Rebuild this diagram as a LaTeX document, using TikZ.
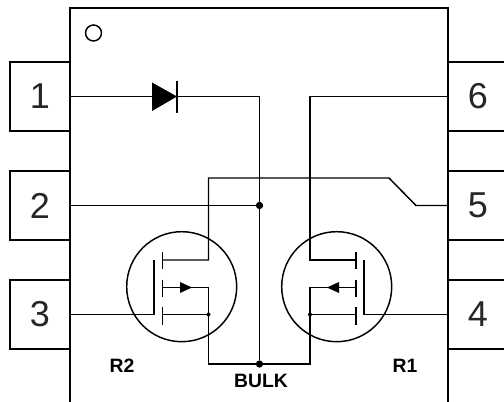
\documentclass[tikz,border=0pt]{standalone}
\usepackage{fontspec}
\setmainfont{Liberation Sans}
\usepackage{tikz}
\tikzstyle{pin} = [rectangle, minimum width=60pt*0.75, minimum height=69pt*0.75, inner sep=0pt, draw=black, line width=1.4pt, font=\fontsize{27}{27}\selectfont, text=black!85]
\tikzstyle{wire} = [line width=1.1pt, line join=miter]
\tikzstyle{part} = [circle, draw=black, line width=1.1pt, minimum size=110pt*0.75, inner sep=0pt]
\tikzstyle{label} = [font=\bfseries\fontsize{14.5}{14.5}\selectfont, inner sep=0pt]
\tikzstyle{dot} = [circle, fill=black, inner sep=0pt, minimum size=5.5pt]
\tikzstyle{smalldot} = [circle, fill=black, inner sep=0pt, minimum size=3pt]

\begin{document}
\begin{tikzpicture}[x=0.75pt, y=-0.75pt]
        \useasboundingbox (0,0) rectangle (504,402);
        \clip (0,0) rectangle (504,402);

        % package outline
        \draw [line width=1.4pt] (70,402) -- (70,8) -- (448,8) -- (448,402);
        \node (mark) [circle, draw=black, line width=1.1pt, minimum size=16pt*0.75, inner sep=0pt] at (93.5,33) {};

        \node (pin1) [pin] at (40,96.5) {1};
        \node (pin2) [pin] at (40,205.5) {2};
        \node (pin3) [pin] at (40,314.5) {3};
        \node (pin6) [pin, minimum width=72pt*0.75] at (484,96.5) {};
        \node (pin5) [pin, minimum width=72pt*0.75] at (484,205.5) {};
        \node (pin4) [pin, minimum width=72pt*0.75] at (484,314.5) {};
        \node (num6) at (478,96.5) [font=\fontsize{27}{27}\selectfont, text=black!85] {6};
        \node (num5) at (478,205.5) [font=\fontsize{27}{27}\selectfont, text=black!85] {5};
        \node (num4) at (478,314.5) [font=\fontsize{27}{27}\selectfont, text=black!85] {4};

        \node (R2) [part] at (181.7,286.7) {};
        \node (R1) [part] at (336.7,286.7) {};

        \node (textR2) [label] at (122,366) {R2};
        \node (textR1) [label] at (405,366) {R1};
        \node (bulk) [label] at (261,381) {BULK};

        \coordinate (top) at (259.5,96.5);
        \node (mid) [dot] at (259.5,205.5) {};
        \node (low) [dot] at (259.5,364) {};
        \node (dotR2) [smalldot] at (208.5,314.5) {};
        \node (dotR1) [smalldot] at (310,314.5) {};

        % diode
        \coordinate (anode) at (152,96.5);
        \coordinate (cathode) at (177,96.5);
        \fill (152,82.5) -- (cathode) -- (152,111) -- cycle;
        \draw [line width=0.9pt] (177,81) -- (177,113);
        \draw [wire] (pin1.east) -- (anode);
        \draw [wire] (cathode) -- (top) -- (mid);
        \draw [wire] (mid) -- (low);
        \draw [wire] (pin2.east) -- (mid);

        % R2
        \draw [wire] (pin3.east) -- (154,314.5) -- (154,260);
        \draw [wire] (162.5,252) -- (162.5,269);
        \draw [wire] (162.5,280) -- (162.5,297);
        \draw [wire] (162.5,307) -- (162.5,325);
        \draw [wire] (pin5.west) -- (416,205.5) -- (389,178) -- (208.5,178) -- (208.5,260) -- (162.5,260);
        \draw [wire] (162.5,287.5) -- (208.5,287.5) -- (dotR2.center);
        \draw [wire] (162.5,314.5) -- (dotR2.center);
        \fill (180,282) -- (192,287.5) -- (180,293) -- cycle;
        \draw [wire] (dotR2.center) -- (208.5,364) -- (low);

        % R1
        \draw [wire] (pin4.west) -- (364,314.5) -- (364,260);
        \draw [wire] (356,252) -- (356,269);
        \draw [wire] (356,280) -- (356,297);
        \draw [wire] (356,307) -- (356,325);
        \draw [wire] (pin6.west) -- (310,96.5) -- (310,260) -- (356,260);
        \draw [wire] (356,287.5) -- (310,287.5) -- (dotR1.center);
        \draw [wire] (356,314.5) -- (dotR1.center);
        \fill (339,282) -- (327,287.5) -- (339,293) -- cycle;
        \draw [wire] (dotR1.center) -- (310,364) -- (low);
    \end{tikzpicture}
\end{document}
